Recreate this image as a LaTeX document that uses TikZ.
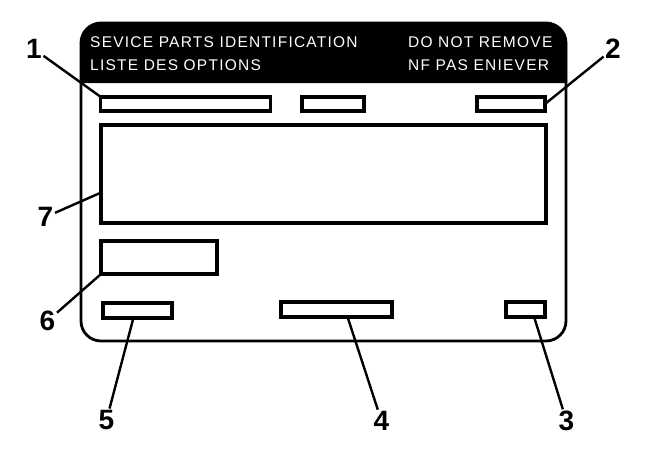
\documentclass[tikz,border=0pt]{standalone}
\usepackage{fontspec}
\setmainfont{Liberation Sans}
\newfontfamily\hdrfont[LetterSpace=8]{Liberation Sans}
\usetikzlibrary{calc}
\begin{document}
\begin{tikzpicture}[x=1pt,y=-1pt,
  lbox/.style={draw,line width=3.8pt,inner sep=0pt,outer sep=0pt},
  num/.style={font=\fontsize{28}{28}\selectfont\bfseries,inner sep=1.5pt},
  leader/.style={line width=2.4pt},
  hdr/.style={font=\hdrfont\fontsize{15.5}{16}\selectfont,text=white,anchor=base west,inner sep=0pt},
  card/.style={line width=2.8pt,rounded corners=20pt}]
\useasboundingbox (0,0) rectangle (672,472);
\fill[white] (0,0) rectangle (672,472);
% card outline and black band
\draw[card] (81,23) rectangle (566,341);
\fill (81,83) [rounded corners=20pt] -- (81,23) -- (567,23) [sharp corners] -- (567,83) -- cycle;
% header texts
\node[hdr] (t1) at (90,47) {SEVICE PARTS IDENTIFICATION};
\node[hdr] (t2) at (90,70) {LISTE DES OPTIONS};
\node[hdr] (t3) at (408,47) {DO NOT REMOVE};
\node[hdr] (t4) at (408,70) {NF PAS ENIEVER};
% boxes
\node[lbox,minimum width=170pt,minimum height=14.5pt] (b1) at (185.5,104) {};
\node[lbox,minimum width=62pt,minimum height=14.5pt] (bm) at (333,104) {};
\node[lbox,minimum width=68pt,minimum height=14.5pt] (b2) at (511,104) {};
\node[lbox,minimum width=445.5pt,minimum height=98.5pt] (b7) at (323.5,174) {};
\node[lbox,minimum width=116.5pt,minimum height=33.5pt] (b6) at (159,257.5) {};
\node[lbox,minimum width=69.5pt,minimum height=15.5pt] (b5) at (137.5,310.5) {};
\node[lbox,minimum width=111.5pt,minimum height=15.5pt] (b4) at (336.5,309.5) {};
\node[lbox,minimum width=39.5pt,minimum height=15.5pt] (b3) at (525.5,309.5) {};
% labels
\node[num] (l1) at (34,49) {1};
\node[num] (l2) at (613,49) {2};
\node[num] (l7) at (45.5,217) {7};
\node[num] (l6) at (47.5,321) {6};
\node[num] (l5) at (106.5,420) {5};
\node[num] (l4) at (381.5,421) {4};
\node[num] (l3) at (566.5,421) {3};
% leaders
\draw[leader] (l1) -- (b1.north west);
\draw[leader] (l2) -- (b2.east);
\draw[leader] (l7) -- ($(b7.north west)!0.69!(b7.south west)$);
\draw[leader] (l6) -- (b6.south west);
\draw[leader] (l5) -- ($(b5.south west)!0.44!(b5.south east)$);
\draw[leader] (l4) -- ($(b4.south west)!0.6!(b4.south east)$);
\draw[leader] (l3) -- ($(b3.south west)!0.72!(b3.south east)$);
\end{tikzpicture}
\end{document}
